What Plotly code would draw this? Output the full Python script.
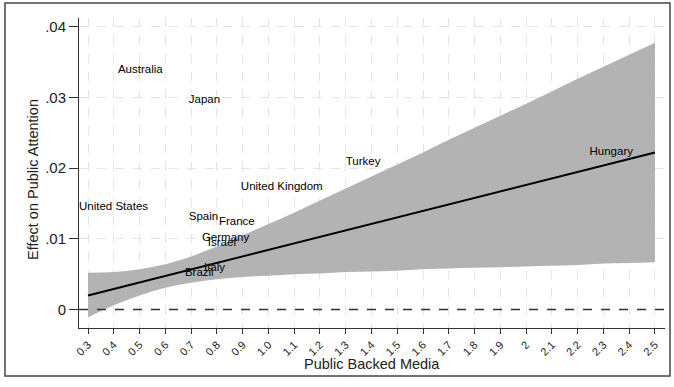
import plotly.graph_objects as go

# ---- data ----
x_grid = [0.3, 0.4, 0.5, 0.6, 0.7, 0.8, 0.9, 1.0, 1.1, 1.2, 1.3, 1.4,
          1.5, 1.6, 1.7, 1.8, 1.9, 2.0, 2.1, 2.2, 2.3, 2.4, 2.5]
effect = [0.00200, 0.00292, 0.00384, 0.00476, 0.00567, 0.00659, 0.00751,
          0.00843, 0.00935, 0.01027, 0.01118, 0.01210, 0.01302, 0.01394,
          0.01486, 0.01578, 0.01669, 0.01761, 0.01853, 0.01945, 0.02037,
          0.02129, 0.02220]
ci_lower = [-0.0011, 0.0006, 0.0020, 0.0031, 0.0038, 0.0043, 0.0046, 0.0048,
            0.0050, 0.0051, 0.0053, 0.0054, 0.0055, 0.0057, 0.0058, 0.0059,
            0.0060, 0.0061, 0.0062, 0.0063, 0.0065, 0.0066, 0.0067]
ci_upper = [0.0052, 0.0053, 0.0057, 0.0064, 0.0075, 0.0089, 0.0105, 0.0121,
            0.0137, 0.0154, 0.0171, 0.0188, 0.0205, 0.0222, 0.0240, 0.0257,
            0.0274, 0.0291, 0.0308, 0.0326, 0.0343, 0.0360, 0.0377]

countries = ["Australia", "Japan", "Turkey", "Hungary", "United Kingdom",
             "United States", "Spain", "France", "Germany", "Israel",
             "Italy", "Brazil"]
country_x = [0.416, 0.691, 1.300, 2.246, 0.893, 0.265, 0.691, 0.808,
             0.742, 0.765, 0.750, 0.676]
country_y = [0.0338, 0.0296, 0.0208, 0.0223, 0.0173, 0.0145, 0.0130,
             0.0123, 0.0101, 0.0094, 0.0058, 0.0051]

x_tickvals = [0.3, 0.4, 0.5, 0.6, 0.7, 0.8, 0.9, 1.0, 1.1, 1.2, 1.3, 1.4,
              1.5, 1.6, 1.7, 1.8, 1.9, 2.0, 2.1, 2.2, 2.3, 2.4, 2.5]
x_ticktext = ["0.3", "0.4", "0.5", "0.6", "0.7", "0.8", "0.9", "1.0", "1.1",
              "1.2", "1.3", "1.4", "1.5", "1.6", "1.7", "1.8", "1.9", "2",
              "2.1", "2.2", "2.3", "2.4", "2.5"]
y_tickvals = [0, 0.01, 0.02, 0.03, 0.04]
y_ticktext = ["0", ".01", ".02", ".03", ".04"]

FONT = "Liberation Sans, Arial, sans-serif"

fig = go.Figure()
fig.add_trace(go.Scatter(x=x_grid, y=ci_lower, mode="lines",
                         line=dict(width=0, color="#b3b3b3", shape="spline"),
                         hoverinfo="skip", showlegend=False))
fig.add_trace(go.Scatter(x=x_grid, y=ci_upper, mode="lines",
                         line=dict(width=0, color="#b3b3b3", shape="spline"),
                         fill="tonexty", fillcolor="#b3b3b3",
                         hoverinfo="skip", showlegend=False))
fig.add_trace(go.Scatter(x=x_grid, y=effect, mode="lines",
                         line=dict(width=2, color="#000000"),
                         showlegend=False))
fig.add_trace(go.Scatter(x=country_x, y=country_y, mode="text",
                         text=countries, textposition="middle right",
                         textfont=dict(family=FONT, size=11.5, color="#000000"),
                         showlegend=False, cliponaxis=False))

# zero reference line
fig.add_shape(type="line", xref="paper", yref="y", x0=0, x1=1, y0=0, y1=0,
              line=dict(color="#333333", width=1.5, dash="dash"), layer="above")
# outer frame
fig.add_shape(type="rect", xref="paper", yref="paper",
              x0=-0.1263, x1=1.0085, y0=-0.1548, y1=1.0484,
              line=dict(color="#444444", width=1.5))

fig.update_layout(
    width=674, height=387,
    margin=dict(l=79, r=9, t=18, b=59),
    paper_bgcolor="white", plot_bgcolor="white",
    font=dict(family=FONT, color="#222222"),
    showlegend=False,
    annotations=[
        dict(text="Public Backed Media", xref="paper", yref="paper",
             x=(372 - 79) / 586, y=(328 - 364) / 310, showarrow=False,
             xanchor="center", yanchor="middle",
             font=dict(family=FONT, size=14.5, color="#222222")),
        dict(text="Effect on Public Attention", xref="paper", yref="paper",
             x=(33 - 79) / 586, y=(328 - 180) / 310, showarrow=False,
             textangle=-90, xanchor="center", yanchor="middle",
             font=dict(family=FONT, size=14.5, color="#222222")),
    ],
)
fig.update_xaxes(range=[0.265, 2.539], tickvals=x_tickvals, ticktext=x_ticktext,
                 tickangle=-45, tickfont=dict(family=FONT, size=11, color="#222222"),
                 ticks="outside", ticklen=5, tickcolor="#333333",
                 showline=True, linecolor="#333333", linewidth=1,
                 showgrid=True, gridcolor="#e4e4e4", griddash="dash", gridwidth=1,
                 zeroline=False)
fig.update_yaxes(range=[-0.0026, 0.0412], tickvals=y_tickvals, ticktext=y_ticktext,
                 tickfont=dict(family=FONT, size=15, color="#222222"),
                 ticks="outside", ticklen=9, tickcolor="#333333",
                 showline=True, linecolor="#333333", linewidth=1,
                 showgrid=True, gridcolor="#e4e4e4", griddash="dash", gridwidth=1,
                 zeroline=False)

fig.write_html("out.html")
